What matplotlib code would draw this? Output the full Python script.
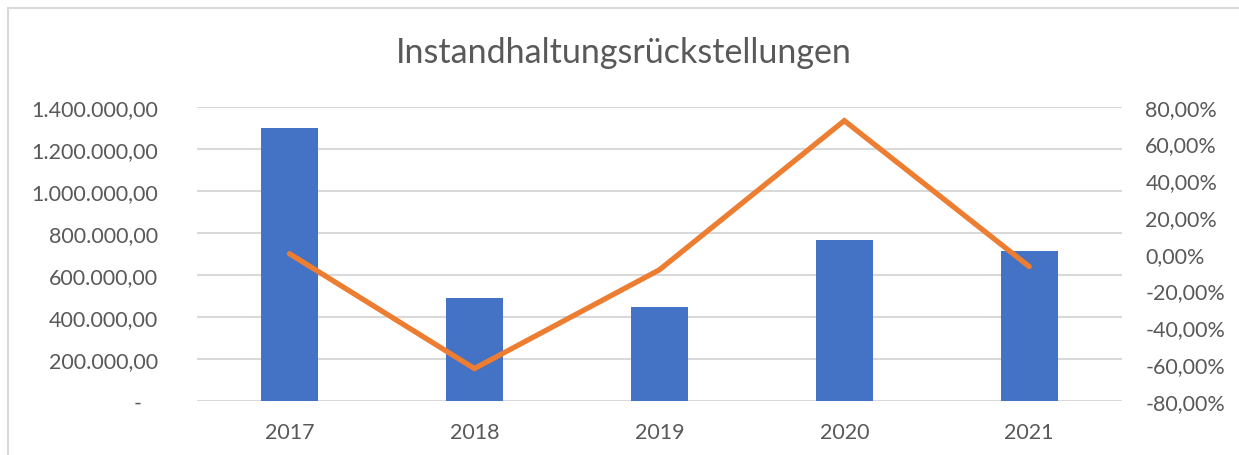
import matplotlib
matplotlib.use("Agg")
import matplotlib.pyplot as plt
from matplotlib.patches import Rectangle
from matplotlib.ticker import FuncFormatter, MultipleLocator

years = ["2017", "2018", "2019", "2020", "2021"]
rueckstellungen = [1300000, 487600, 444800, 766700, 712900]
veraenderung = [0.0, -62.5, -8.8, 72.4, -7.0]

title = "Instandhaltungsrückstellungen"
bar_color = "#4472C4"
line_color = "#ED7D31"
text_color = "#595959"
grid_color = "#D9D9D9"
font = "Lato"

W, H = 1239, 456
fig = plt.figure(figsize=(W / 100, H / 100), dpi=100)
fig.patch.set_facecolor("white")

left, right = 197 / W, 1121.7 / W
bottom, top = 1 - 401.7 / H, 1 - 107.7 / H
ax = fig.add_axes([left, bottom, right - left, top - bottom])

x = list(range(len(years)))
ax.bar(x, rueckstellungen, width=0.31, color=bar_color, zorder=2)
ax.set_xlim(-0.5, len(years) - 0.5)
ax.set_ylim(0, 1400000)
ax.yaxis.set_major_locator(MultipleLocator(200000))


def de_fmt(v, pos=None):
    if v == 0:
        return "-   "
    s = f"{v:,.2f}"
    return s.replace(",", "X").replace(".", ",").replace("X", ".")


ax.yaxis.set_major_formatter(FuncFormatter(de_fmt))
ax.grid(axis="y", color=grid_color, linewidth=1.5, zorder=0)
ax.set_axisbelow(True)
for s in ax.spines.values():
    s.set_visible(False)
ax.set_xticks(x)
ax.set_xticklabels(years)
ax.tick_params(axis="both", length=0, colors=text_color, labelsize=15.5)
ax.tick_params(axis="y", pad=28)
ax.tick_params(axis="x", pad=15.5)
for lab in ax.get_xticklabels() + ax.get_yticklabels():
    lab.set_fontfamily(font)

ax2 = ax.twinx()
ax2.plot(x, veraenderung, color=line_color, linewidth=3.8, solid_capstyle="round",
         solid_joinstyle="miter", zorder=3)
ax2.set_ylim(-80, 80)
ax2.yaxis.set_major_locator(MultipleLocator(20))
ax2.yaxis.set_major_formatter(FuncFormatter(lambda v, p: f"{v:.2f}".replace(".", ",") + "%"))
for s in ax2.spines.values():
    s.set_visible(False)
ax2.tick_params(axis="y", length=0, colors=text_color, labelsize=15.5, pad=17)
for lab in ax2.get_yticklabels():
    lab.set_fontfamily(font)

fig.text(624 / W, 1 - 53 / H, title, ha="center", va="center", fontsize=24.5,
         color=text_color, fontfamily=font)

fig.add_artist(Rectangle((7.5 / W, -0.1), 1.2, (H - 9) / H + 0.1, transform=fig.transFigure,
                         fill=False, edgecolor=grid_color, linewidth=1.5))

fig.savefig("out.png", dpi=100, facecolor="white")
